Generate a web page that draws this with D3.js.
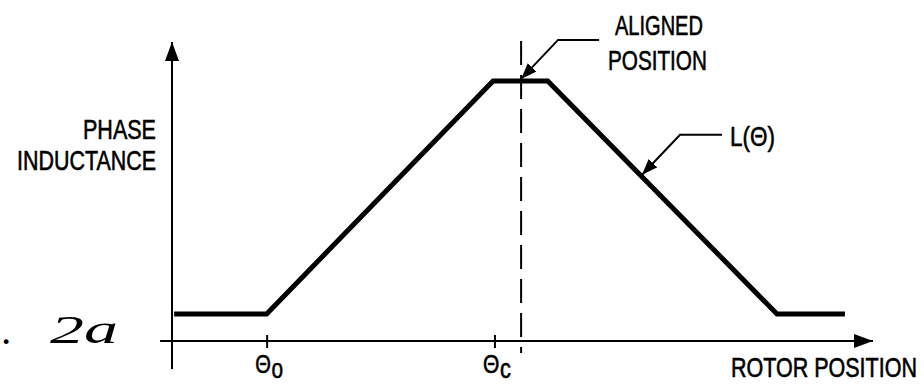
<!DOCTYPE html>
<html>
<head>
<meta charset="utf-8">
<script src="https://cdn.jsdelivr.net/npm/d3@7"></script>
<style>
  body { margin: 0; background: #fff; }
  .lbl { font-family: "Liberation Sans", Arial, sans-serif; font-size: 28px; fill: #000; stroke: #000; stroke-width: 0.6px; }
</style>
</head>
<body>
<svg id="chart" width="924" height="387"></svg>
<script>
// phase inductance profile, rotor position in arbitrary units (0..100)
var profilePos = [0.3, 13.5, 45.8, 53.6, 86.3, 96];
var profileInd = [9, 9, 86.7, 86.7, 9, 9];

// marked positions on the rotor position axis
var tickPos = [13.5, 46];
var tickSubs = ["o", "c"];
var alignedPos = 49.8;
var curveLabelPos = 67.05;

var svg = d3.select("#chart");

var x = d3.scaleLinear().domain([0, 100]).range([172, 873]);
var y = d3.scaleLinear().domain([0, 100]).range([341, 41]);

// arrowhead markers
var defs = svg.append("defs");
function addMarker(id, len, half) {
    defs.append("marker")
        .attr("id", id)
        .attr("viewBox", `0 ${-half} ${len} ${half * 2}`)
        .attr("refX", len)
        .attr("refY", 0)
        .attr("markerUnits", "userSpaceOnUse")
        .attr("markerWidth", len)
        .attr("markerHeight", half * 2)
        .attr("orient", "auto")
        .append("path")
        .attr("d", `M0,${-half}L${len},0L0,${half}Z`)
        .attr("fill", "#000");
}
addMarker("axisArrow", 19, 7);
addMarker("leadArrow", 16, 6);

// squeeze a text horizontally so it is `w` wide, the drawing font is condensed
function condense(txt, px, py, w) {
    var bw = txt.node().getBBox().width;
    txt.attr("x", 0).attr("y", 0)
        .attr("transform", `translate(${px},${py}) scale(${w / bw},1)`);
}

// y axis (arrow up), extends a bit below the x axis
svg.append("line")
    .attr("x1", x(0)).attr("x2", x(0))
    .attr("y1", y(-9.3)).attr("y2", y(99.7))
    .attr("stroke", "#000").attr("stroke-width", 2)
    .attr("marker-end", "url(#axisArrow)");

// x axis (arrow right), extends a bit left of the y axis
svg.append("line")
    .attr("x1", x(-1.7)).attr("x2", x(100))
    .attr("y1", y(0)).attr("y2", y(0))
    .attr("stroke", "#000").attr("stroke-width", 2)
    .attr("marker-end", "url(#axisArrow)");

// ticks theta_o and theta_c
var xAxis = d3.axisBottom(x)
    .tickValues(tickPos)
    .tickSize(7)
    .tickFormat("");

var gx = svg.append("g")
    .attr("transform", `translate(0,${y(0)})`)
    .call(xAxis);
gx.select(".domain").remove();
gx.selectAll(".tick line")
    .attr("y1", -6).attr("y2", 7)
    .attr("stroke-width", 2);

gx.selectAll(".tick").each(function (d, i) {
    var t = d3.select(this).append("text")
        .attr("class", "lbl")
        .attr("text-anchor", "start")
        .style("font-size", "26px");
    t.append("tspan").text("\u0398");
    t.append("tspan")
        .attr("dx", 1)
        .attr("dy", 5)
        .style("font-size", "27px")
        .text(tickSubs[i]);
    condense(t, -12, 32, 28);
});

// aligned position dashed line
svg.append("line")
    .attr("x1", x(alignedPos)).attr("x2", x(alignedPos))
    .attr("y1", y(100)).attr("y2", y(-4))
    .attr("stroke", "#000").attr("stroke-width", 2)
    .attr("stroke-dasharray", "24,10");

// inductance curve
var pts = profilePos.map((p, i) => [p, profileInd[i]]);
var line = d3.line()
    .x(d => x(d[0]))
    .y(d => y(d[1]));

svg.append("path")
    .datum(pts)
    .attr("d", line)
    .attr("fill", "none")
    .attr("stroke", "#000")
    .attr("stroke-width", 5)
    .attr("stroke-linejoin", "miter");

// value of the profile at a position
function indAt(p) {
    for (var i = 1; i < profilePos.length; i++) {
        if (p <= profilePos[i]) {
            var t = (p - profilePos[i - 1]) / (profilePos[i] - profilePos[i - 1]);
            return profileInd[i - 1] + t * (profileInd[i] - profileInd[i - 1]);
        }
    }
    return profileInd[profileInd.length - 1];
}

// leader with elbow: tip on the curve, diagonal up-right, then horizontal
function leader(p, dx, dy, run) {
    var tx = x(p), ty = y(indAt(p)) - 2;
    svg.append("path")
        .attr("d", `M${tx + dx + run},${ty + dy}H${tx + dx}L${tx},${ty}`)
        .attr("fill", "none")
        .attr("stroke", "#000")
        .attr("stroke-width", 2)
        .attr("marker-end", "url(#leadArrow)");
}
leader(alignedPos, 37, -39, 41);
leader(curveLabelPos, 38, -40, 42);

// labels
function label(txt, px, py, len, size) {
    var t = svg.append("text")
        .attr("class", "lbl")
        .style("font-size", (size || 28) + "px")
        .text(txt);
    condense(t, px, py, len);
}
label("PHASE", 83, 139, 73, 27);
label("INDUCTANCE", 17, 170, 139, 27);
label("ALIGNED", 615, 35, 88);
label("POSITION", 608, 70, 99);
label("L(\u0398)", 730, 146, 45);
label("ROTOR POSITION", 731, 377, 186);

// figure caption (cut off at the left edge)
svg.append("text")
    .attr("x", 1).attr("y", 344)
    .style("font-family", "'Liberation Serif', serif")
    .style("font-size", "41px")
    .text(".");
svg.append("text")
    .attr("x", 50).attr("y", 343)
    .attr("textLength", 68)
    .attr("lengthAdjust", "spacingAndGlyphs")
    .style("font-family", "'Liberation Serif', serif")
    .style("font-style", "italic")
    .style("font-size", "41px")
    .text("2a");
</script>
</body>
</html>
